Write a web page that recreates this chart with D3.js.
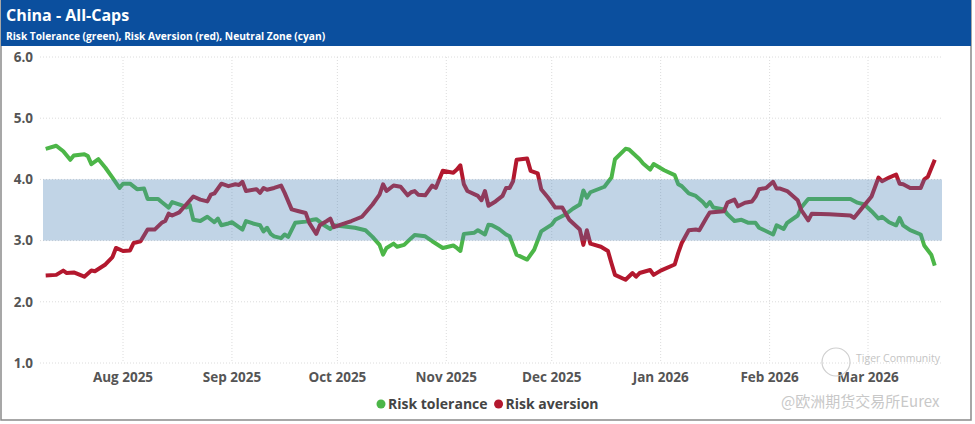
<!DOCTYPE html>
<html>
<head>
<meta charset="utf-8">
<script src="https://cdn.jsdelivr.net/npm/d3@7"></script>
<style>
    body { margin: 0; background: #fff; }
    svg { display: block; font-family: 'Open Sans', 'Noto Sans', sans-serif; }
</style>
</head>
<body>
<div id="chart"></div>
<script>
const riskTolerance = [
    ['2025-07-10', 4.50], ['2025-07-13', 4.55], ['2025-07-15', 4.46], ['2025-07-17', 4.32], ['2025-07-18', 4.39],
    ['2025-07-21', 4.41], ['2025-07-22', 4.38], ['2025-07-23', 4.25], ['2025-07-25', 4.33], ['2025-07-27', 4.19],
    ['2025-07-29', 4.03], ['2025-07-31', 3.86], ['2025-08-01', 3.93], ['2025-08-03', 3.93], ['2025-08-05', 3.84],
    ['2025-08-07', 3.85], ['2025-08-08', 3.68], ['2025-08-11', 3.68], ['2025-08-12', 3.63], ['2025-08-14', 3.54],
    ['2025-08-15', 3.63], ['2025-08-18', 3.57], ['2025-08-19', 3.54], ['2025-08-20', 3.58], ['2025-08-21', 3.34],
    ['2025-08-23', 3.32], ['2025-08-25', 3.39], ['2025-08-27', 3.30], ['2025-08-28', 3.36], ['2025-08-29', 3.25],
    ['2025-08-31', 3.28], ['2025-09-01', 3.30], ['2025-09-04', 3.18], ['2025-09-05', 3.32], ['2025-09-07', 3.28],
    ['2025-09-09', 3.25], ['2025-09-10', 3.15], ['2025-09-11', 3.21], ['2025-09-12', 3.11], ['2025-09-13', 3.07],
    ['2025-09-15', 3.04], ['2025-09-16', 3.10], ['2025-09-17', 3.06], ['2025-09-19', 3.29], ['2025-09-22', 3.31],
    ['2025-09-24', 3.34], ['2025-09-25', 3.35], ['2025-09-27', 3.26], ['2025-09-29', 3.19], ['2025-09-30', 3.25],
    ['2025-10-03', 3.23], ['2025-10-06', 3.21], ['2025-10-09', 3.17], ['2025-10-11', 3.06], ['2025-10-13', 2.93],
    ['2025-10-14', 2.77], ['2025-10-15', 2.88], ['2025-10-17', 2.95], ['2025-10-18', 2.90], ['2025-10-20', 2.93],
    ['2025-10-22', 3.04], ['2025-10-23', 3.09], ['2025-10-26', 3.07], ['2025-10-28', 2.99], ['2025-10-31', 2.88],
    ['2025-11-03', 2.92], ['2025-11-04', 2.88], ['2025-11-05', 2.83], ['2025-11-06', 3.11], ['2025-11-09', 3.13],
    ['2025-11-10', 3.17], ['2025-11-12', 3.10], ['2025-11-13', 3.26], ['2025-11-14', 3.25], ['2025-11-16', 3.19],
    ['2025-11-18', 3.10], ['2025-11-19', 3.07], ['2025-11-21', 2.77], ['2025-11-24', 2.69], ['2025-11-26', 2.85],
    ['2025-11-28', 3.15], ['2025-12-01', 3.26], ['2025-12-02', 3.34], ['2025-12-05', 3.43], ['2025-12-07', 3.52],
    ['2025-12-09', 3.59], ['2025-12-10', 3.82], ['2025-12-11', 3.70], ['2025-12-12', 3.79], ['2025-12-16', 3.88],
    ['2025-12-18', 4.03], ['2025-12-19', 4.33], ['2025-12-22', 4.50], ['2025-12-23', 4.49], ['2025-12-26', 4.33],
    ['2025-12-27', 4.26], ['2025-12-29', 4.16], ['2025-12-30', 4.25], ['2026-01-02', 4.15], ['2026-01-05', 4.07],
    ['2026-01-06', 3.92], ['2026-01-07', 3.89], ['2026-01-09', 3.77], ['2026-01-11', 3.73], ['2026-01-13', 3.63],
    ['2026-01-14', 3.56], ['2026-01-15', 3.63], ['2026-01-16', 3.54], ['2026-01-19', 3.51], ['2026-01-20', 3.43],
    ['2026-01-22', 3.32], ['2026-01-24', 3.34], ['2026-01-26', 3.29], ['2026-01-28', 3.29], ['2026-01-29', 3.21],
    ['2026-02-02', 3.10], ['2026-02-03', 3.25], ['2026-02-04', 3.22], ['2026-02-05', 3.19], ['2026-02-06', 3.29],
    ['2026-02-09', 3.41], ['2026-02-10', 3.54], ['2026-02-12', 3.68], ['2026-02-18', 3.68], ['2026-02-24', 3.68],
    ['2026-02-26', 3.62], ['2026-02-28', 3.59], ['2026-03-02', 3.48], ['2026-03-04', 3.36], ['2026-03-05', 3.39],
    ['2026-03-07', 3.30], ['2026-03-09', 3.25], ['2026-03-10', 3.37], ['2026-03-11', 3.25], ['2026-03-13', 3.17],
    ['2026-03-16', 3.10], ['2026-03-17', 2.92], ['2026-03-19', 2.77], ['2026-03-20', 2.59]
];

const riskAversion = [
    ['2025-07-10', 2.43], ['2025-07-13', 2.44], ['2025-07-15', 2.51], ['2025-07-16', 2.47], ['2025-07-18', 2.48],
    ['2025-07-21', 2.41], ['2025-07-23', 2.51], ['2025-07-24', 2.50], ['2025-07-27', 2.61], ['2025-07-29', 2.73],
    ['2025-07-30', 2.88], ['2025-08-01', 2.83], ['2025-08-03', 2.84], ['2025-08-04', 2.96], ['2025-08-06', 2.99],
    ['2025-08-08', 3.18], ['2025-08-10', 3.18], ['2025-08-12', 3.29], ['2025-08-13', 3.32], ['2025-08-14', 3.44],
    ['2025-08-15', 3.41], ['2025-08-17', 3.46], ['2025-08-19', 3.59], ['2025-08-21', 3.72], ['2025-08-23', 3.67],
    ['2025-08-25', 3.64], ['2025-08-26', 3.75], ['2025-08-27', 3.77], ['2025-08-29', 3.93], ['2025-08-31', 3.89],
    ['2025-09-02', 3.92], ['2025-09-03', 3.91], ['2025-09-04', 3.96], ['2025-09-05', 3.81], ['2025-09-08', 3.84],
    ['2025-09-09', 3.78], ['2025-09-10', 3.86], ['2025-09-11', 3.83], ['2025-09-13', 3.86], ['2025-09-15', 3.90],
    ['2025-09-16', 3.78], ['2025-09-18', 3.51], ['2025-09-20', 3.48], ['2025-09-22', 3.45], ['2025-09-23', 3.29],
    ['2025-09-25', 3.11], ['2025-09-26', 3.25], ['2025-09-28', 3.32], ['2025-09-29', 3.36], ['2025-09-30', 3.22],
    ['2025-10-02', 3.26], ['2025-10-05', 3.32], ['2025-10-08', 3.39], ['2025-10-11', 3.59], ['2025-10-13', 3.75],
    ['2025-10-14', 3.92], ['2025-10-15', 3.81], ['2025-10-17', 3.90], ['2025-10-19', 3.88], ['2025-10-21', 3.74],
    ['2025-10-22', 3.79], ['2025-10-23', 3.81], ['2025-10-24', 3.75], ['2025-10-26', 3.74], ['2025-10-28', 3.90],
    ['2025-10-29', 3.86], ['2025-10-31', 4.14], ['2025-11-03', 4.11], ['2025-11-04', 4.16], ['2025-11-05', 4.23],
    ['2025-11-06', 3.92], ['2025-11-07', 3.81], ['2025-11-10', 3.73], ['2025-11-11', 3.66], ['2025-11-12', 3.81],
    ['2025-11-13', 3.57], ['2025-11-15', 3.64], ['2025-11-17', 3.73], ['2025-11-18', 3.86], ['2025-11-19', 3.86],
    ['2025-11-20', 3.97], ['2025-11-21', 4.32], ['2025-11-24', 4.34], ['2025-11-25', 4.14], ['2025-11-27', 4.10],
    ['2025-11-28', 3.84], ['2025-11-30', 3.70], ['2025-12-02', 3.54], ['2025-12-04', 3.54], ['2025-12-06', 3.34],
    ['2025-12-09', 3.18], ['2025-12-10', 2.93], ['2025-12-11', 3.17], ['2025-12-12', 2.95], ['2025-12-15', 2.90],
    ['2025-12-17', 2.83], ['2025-12-18', 2.63], ['2025-12-19', 2.44], ['2025-12-22', 2.36], ['2025-12-24', 2.47],
    ['2025-12-25', 2.41], ['2025-12-26', 2.47], ['2025-12-29', 2.52], ['2025-12-30', 2.44], ['2026-01-01', 2.51],
    ['2026-01-05', 2.61], ['2026-01-06', 2.80], ['2026-01-07', 2.96], ['2026-01-09', 3.17], ['2026-01-11', 3.18],
    ['2026-01-12', 3.17], ['2026-01-14', 3.37], ['2026-01-15', 3.46], ['2026-01-19', 3.48], ['2026-01-20', 3.62],
    ['2026-01-22', 3.67], ['2026-01-23', 3.56], ['2026-01-25', 3.62], ['2026-01-27', 3.64], ['2026-01-28', 3.72],
    ['2026-01-29', 3.84], ['2026-01-31', 3.86], ['2026-02-02', 3.96], ['2026-02-03', 3.85], ['2026-02-04', 3.85],
    ['2026-02-06', 3.81], ['2026-02-09', 3.66], ['2026-02-10', 3.50], ['2026-02-12', 3.33], ['2026-02-13', 3.44],
    ['2026-02-18', 3.43], ['2026-02-24', 3.41], ['2026-02-25', 3.37], ['2026-02-27', 3.51], ['2026-03-02', 3.72],
    ['2026-03-04', 4.03], ['2026-03-05', 3.97], ['2026-03-07', 4.03], ['2026-03-09', 4.08], ['2026-03-10', 3.93],
    ['2026-03-11', 3.92], ['2026-03-13', 3.86], ['2026-03-16', 3.86], ['2026-03-17', 4.00], ['2026-03-18', 4.04],
    ['2026-03-20', 4.32]
];

const neutralZone = [3.0, 4.0];
const yTicks = [1.0, 2.0, 3.0, 4.0, 5.0, 6.0];
const monthTicks = ['2025-08-01', '2025-09-01', '2025-10-01', '2025-11-01', '2025-12-01', '2026-01-01', '2026-02-01', '2026-03-01'];
const legendItems = [
    { label: 'Risk tolerance', color: '#4cb648' },
    { label: 'Risk aversion', color: '#b3182e' }
];

const parseDate = d3.utcParse('%Y-%m-%d');
const width = 975;
const height = 424;
const plot = { left: 43, right: 942, top: 57, bottom: 363 };

const svg = d3.select('#chart')
    .append('svg')
    .attr('width', width)
    .attr('height', height);

// frame + header bar
svg.append('rect')
    .attr('x', 1).attr('y', 0.5)
    .attr('width', 970).attr('height', 419.5)
    .attr('fill', '#fff')
    .attr('stroke', '#8a8a8a')
    .attr('stroke-width', 1.5);

svg.append('rect')
    .attr('x', 1).attr('y', 0)
    .attr('width', 970).attr('height', 46)
    .attr('fill', '#0b4f9e');

svg.append('text')
    .attr('x', 6).attr('y', 21)
    .attr('fill', '#fff')
    .attr('font-size', 16)
    .attr('font-weight', 700)
    .text('China - All-Caps');

svg.append('text')
    .attr('x', 6).attr('y', 40)
    .attr('fill', '#fff')
    .attr('font-size', 10.2)
    .attr('font-weight', 700)
    .text('Risk Tolerance (green), Risk Aversion (red), Neutral Zone (cyan)');

const x = d3.scaleUtc()
    .domain([parseDate(monthTicks[0]), parseDate(monthTicks[monthTicks.length - 1])])
    .range([123, 868]);

const y = d3.scaleLinear()
    .domain([1, 6])
    .range([plot.bottom, plot.top]);

// grid
svg.append('g')
    .selectAll('line')
    .data(yTicks)
    .enter()
    .append('line')
    .attr('x1', plot.left - 3).attr('x2', plot.right)
    .attr('y1', d => y(d)).attr('y2', d => y(d))
    .attr('stroke', '#dcdcdc')
    .attr('stroke-dasharray', '1,2');

svg.append('g')
    .selectAll('line')
    .data(monthTicks)
    .enter()
    .append('line')
    .attr('x1', d => x(parseDate(d))).attr('x2', d => x(parseDate(d)))
    .attr('y1', plot.top).attr('y2', plot.bottom)
    .attr('stroke', '#dcdcdc')
    .attr('stroke-dasharray', '1,2');

// y labels
svg.append('g')
    .selectAll('text')
    .data(yTicks)
    .enter()
    .append('text')
    .attr('x', 33)
    .attr('y', d => y(d))
    .attr('dy', '0.35em')
    .attr('text-anchor', 'end')
    .attr('font-size', 13.5)
    .attr('font-weight', 700)
    .attr('fill', '#555')
    .text(d => d.toFixed(1));

// x labels
svg.append('g')
    .selectAll('text')
    .data(monthTicks)
    .enter()
    .append('text')
    .attr('x', d => x(parseDate(d)))
    .attr('y', 377)
    .attr('dy', '0.35em')
    .attr('text-anchor', 'middle')
    .attr('font-size', 13.5)
    .attr('font-weight', 700)
    .attr('fill', '#555')
    .text(d => d3.utcFormat('%b %Y')(parseDate(d)));

const line = d3.line()
    .x(d => x(parseDate(d[0])))
    .y(d => y(d[1]));

svg.append('path')
    .datum(riskTolerance)
    .attr('fill', 'none')
    .attr('stroke', legendItems[0].color)
    .attr('stroke-width', 4)
    .attr('stroke-linejoin', 'round')
    .attr('d', line);

svg.append('path')
    .datum(riskAversion)
    .attr('fill', 'none')
    .attr('stroke', legendItems[1].color)
    .attr('stroke-width', 4)
    .attr('stroke-linejoin', 'round')
    .attr('d', line);

// neutral zone sits on top, semi transparent
svg.append('rect')
    .attr('x', plot.left)
    .attr('y', y(neutralZone[1]))
    .attr('width', plot.right - plot.left)
    .attr('height', y(neutralZone[0]) - y(neutralZone[1]))
    .attr('fill', 'rgb(72,130,182)')
    .attr('fill-opacity', 0.34);

// legend
const legend = svg.append('g').attr('transform', 'translate(381,404)');
let offset = 0;
legendItems.forEach(item => {
    const g = legend.append('g').attr('transform', `translate(${offset},0)`);
    g.append('circle').attr('r', 4.5).attr('fill', item.color);
    const t = g.append('text')
        .attr('x', 7)
        .attr('dy', '0.35em')
        .attr('font-size', 14)
        .attr('font-weight', 700)
        .attr('fill', '#444')
        .text(item.label);
    offset += 7 + t.node().getComputedTextLength() + 11;
});

// watermark
svg.append('circle')
    .attr('cx', 836).attr('cy', 362).attr('r', 14)
    .attr('fill', 'none')
    .attr('stroke', '#cfcfcf')
    .attr('stroke-width', 1.2);

svg.append('text')
    .attr('x', 856).attr('y', 358)
    .attr('dy', '0.35em')
    .attr('font-size', 10.5)
    .attr('fill', '#c4c4c4')
    .text('Tiger Community');

svg.append('text')
    .attr('x', 781).attr('y', 402)
    .attr('dy', '0.35em')
    .attr('font-family', "'Noto Sans CJK SC', sans-serif")
    .attr('font-size', 15)
    .attr('fill', '#c8c8c8')
    .text('@欧洲期货交易所Eurex');
</script>
</body>
</html>
